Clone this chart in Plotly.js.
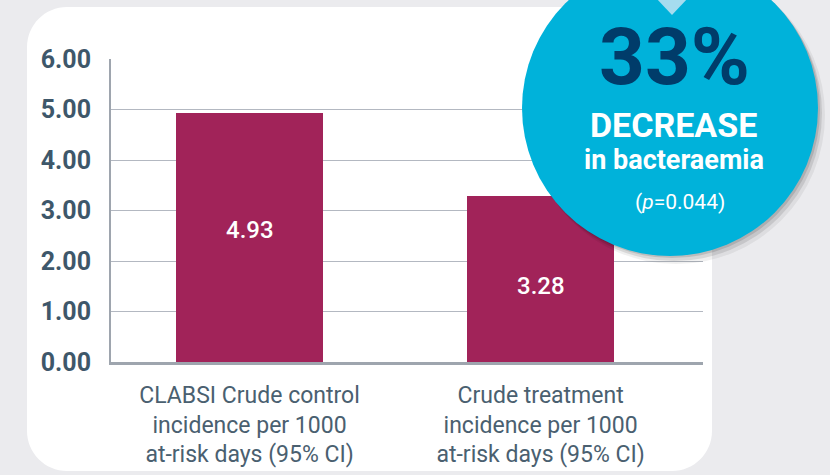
<!DOCTYPE html>
<html><head><meta charset="utf-8">
<script src="https://cdn.plot.ly/plotly-3.0.1.min.js"></script>
<style>html,body{margin:0;padding:0;background:#ebebee;overflow:hidden}#chart{width:830px;height:475px}</style>
</head><body><div id="chart"></div>
<script>
// ---- data ----
const categories = ["control", "treatment"];
const categoryLabels = ["CLABSI Crude control<br>incidence per 1000<br>at-risk days (95% CI)", "Crude treatment<br>incidence per 1000<br>at-risk days (95% CI)"];
const incidence = [4.93, 3.28];
const yTickValues = [0, 1, 2, 3, 4, 5, 6];
const yTickLabels = ["0.00", "1.00", "2.00", "3.00", "4.00", "5.00", "6.00"];
const calloutPercent = "33%";
const calloutLine1 = "DECREASE";
const calloutLine2 = "in bacteraemia";
const calloutPValue = "(<i>p</i>=0.044)";

// ---- layout helpers ----
const W = 830, H = 475, M = {l: 111, r: 127, t: 59, b: 113};
const PW = W - M.l - M.r, PH = H - M.t - M.b;
const px = x => (x - M.l) / PW;
const py = y => (H - M.b - y) / PH;

function roundedRect(x0, y0, x1, y1, r) {
  const k = 0.5523 * r;
  const P = (x, y) => px(x) + ',' + py(y);
  return 'M' + P(x0 + r, y0) + ' L' + P(x1 - r, y0) +
    ' C' + P(x1 - r + k, y0) + ' ' + P(x1, y0 + r - k) + ' ' + P(x1, y0 + r) +
    ' L' + P(x1, y1 - r) +
    ' C' + P(x1, y1 - r + k) + ' ' + P(x1 - r + k, y1) + ' ' + P(x1 - r, y1) +
    ' L' + P(x0 + r, y1) +
    ' C' + P(x0 + r - k, y1) + ' ' + P(x0, y1 - r + k) + ' ' + P(x0, y1 - r) +
    ' L' + P(x0, y0 + r) +
    ' C' + P(x0, y0 + r - k) + ' ' + P(x0 + r - k, y0) + ' ' + P(x0 + r, y0) + ' Z';
}
function circle(cx, cy, r, color, opacity) {
  return {type: 'circle', xref: 'paper', yref: 'paper', layer: 'above',
    x0: px(cx - r), x1: px(cx + r), y0: py(cy + r), y1: py(cy - r),
    fillcolor: color, opacity: opacity, line: {width: 0}};
}

const CX = 670, CY = 108, CR = 148;
const textColor = '#3e576a';

const trace = {
  type: 'bar', x: categories, y: incidence,
  marker: {color: '#a12359', line: {width: 0}},
  width: 0.505, hoverinfo: 'none', showlegend: false
};

const labelY = [2.61, 1.50];
const annotations = categories.map((c, i) => ({
  x: c, y: labelY[i], xref: 'x', yref: 'y', text: incidence[i].toFixed(2),
  showarrow: false, xanchor: 'center', yanchor: 'middle',
  font: {family: 'Roboto', size: 24, color: '#ffffff', weight: 500}
}));
const callout = [
  {t: calloutPercent, x: 674, y: 57, size: 80, color: '#003c6a', weight: 'bold'},
  {t: calloutLine1, x: 673, y: 125, size: 34, color: '#ffffff', weight: 'bold'},
  {t: calloutLine2, x: 674, y: 160, size: 27, color: '#ffffff', weight: 'bold'},
  {t: calloutPValue, x: 680, y: 202, size: 21, color: '#ffffff', weight: 'normal'}
];
callout.forEach(c => annotations.push({
  x: px(c.x), y: py(c.y), xref: 'paper', yref: 'paper', text: c.t, showarrow: false,
  xanchor: 'center', yanchor: 'middle',
  font: {family: 'Roboto', size: c.size, color: c.color, weight: c.weight}
}));

const shapes = [
  {type: 'path', xref: 'paper', yref: 'paper', layer: 'below', path: roundedRect(27, 7, 712, 471, 40),
   fillcolor: '#ffffff', line: {width: 0}},
  circle(CX + 6, CY + 7, CR + 1, '#000000', 0.06),
  circle(CX + 4, CY + 5, CR, '#000000', 0.10),
  circle(CX + 2, CY + 2, CR, '#000000', 0.12),
  circle(CX, CY, CR, '#00b2da', 1),
  {type: 'path', xref: 'paper', yref: 'paper', layer: 'above',
   path: 'M' + px(656) + ',' + py(-2) + ' L' + px(688) + ',' + py(-2) + ' L' + px(672) + ',' + py(15) + ' Z',
   fillcolor: '#a6dcef', line: {width: 0}}
];

const layout = {
  width: W, height: H, margin: M,
  paper_bgcolor: 'rgba(0,0,0,0)', plot_bgcolor: 'rgba(0,0,0,0)',
  xaxis: {
    type: 'category', range: [-0.476, 1.558], tickvals: categories, ticktext: categoryLabels,
    showgrid: false, zeroline: false, showline: true, linecolor: '#9ea5ae', linewidth: 3,
    ticks: '', ticklabelstandoff: 10,
    tickfont: {family: 'Roboto', size: 23, color: '#4a6070'}, fixedrange: true
  },
  yaxis: {
    range: [0, 6], tickvals: yTickValues, ticktext: yTickLabels,
    showgrid: true, gridcolor: '#b3b8c1', gridwidth: 1, zeroline: false,
    showline: true, linecolor: '#9ea5ae', linewidth: 2, ticks: '', ticklabelstandoff: 13,
    tickfont: {family: 'Roboto', size: 25, color: textColor, weight: 'bold'}, fixedrange: true
  },
  shapes: shapes, annotations: annotations, bargap: 0
};

Plotly.newPlot('chart', [trace], layout, {displayModeBar: false, staticPlot: true});
</script></body></html>
